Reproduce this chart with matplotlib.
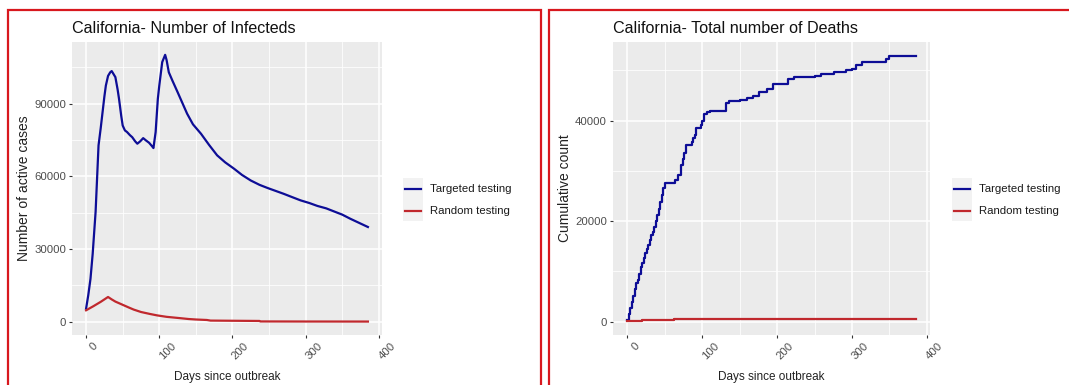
import matplotlib
matplotlib.use('Agg')
import matplotlib.pyplot as plt
import matplotlib.patches as mpatches
import matplotlib.transforms as mtransforms
from matplotlib.lines import Line2D
from matplotlib.ticker import MultipleLocator

W, H = 1069, 385
BLUE = '#0d0d96'
RED = '#c0282d'
PANEL = '#ebebeb'
TICK_TXT = '#4d4d4d'

plt.rcParams['font.family'] = ['Liberation Sans', 'DejaVu Sans']

# active cases
inf_days_tt = [0, 3, 6, 9, 13, 17, 20, 22, 25, 27, 30, 33, 35, 38, 40, 43, 45, 48, 50,
               53, 56, 60, 63, 67, 70, 74, 78, 82, 86, 90, 92, 95, 98, 100, 104, 108,
               110, 113, 118, 125, 132, 138, 146, 157, 168, 179, 190, 202, 213, 225,
               237, 248, 259, 270, 281, 293, 305, 316, 328, 339, 350, 361, 373, 385]
inf_vals_tt = [5400, 11000, 17700, 28000, 45400, 72800, 80000, 85200, 93000, 97500, 101500,
               103000, 103500, 102000, 101000, 96000, 92000, 85000, 81000, 79000, 78300,
               77000, 76200, 74500, 73500, 74500, 75800, 74800, 73900, 72500, 71700, 78300,
               92000, 97500, 107200, 110200, 108000, 103000, 99500, 94800, 90000, 85900,
               81500, 77600, 73000, 68700, 65800, 63200, 60600, 58300, 56500, 55200, 54000,
               52800, 51500, 50100, 49000, 47800, 46800, 45500, 44200, 42500, 40800, 39100]
inf_days_rt = [0, 10, 20, 30, 35, 40, 46, 52, 58, 65, 75, 87, 97, 110, 127, 140, 150, 165,
               170, 200, 237, 238, 300, 385]
inf_vals_rt = [4700, 6400, 8200, 10200, 9200, 8300, 7500, 6700, 5900, 5000, 4000, 3200, 2600,
               2000, 1500, 1100, 900, 700, 450, 380, 300, 100, 70, 50]

# cumulative deaths
dth_days_tt = [0, 2, 4, 6, 8, 10, 12, 14, 16, 18, 20, 22, 24, 26, 28, 30, 32, 34, 36, 38,
               40, 42, 44, 46, 48, 50, 64, 68, 72, 74, 76, 78, 86, 88, 90, 92, 98, 100, 102,
               106, 110, 132, 136, 150, 160, 168, 176, 186, 195, 214, 222, 250, 258, 276,
               292, 300, 306, 313, 346, 350, 386]
dth_vals_tt = [300, 1500, 2800, 4000, 5200, 6600, 7600, 8300, 9500, 10800, 11600, 12700,
               13600, 14400, 15200, 16300, 17200, 17900, 18800, 20000, 21200, 22400, 23800,
               25200, 26600, 27600, 28200, 29200, 31200, 32300, 33500, 35100, 35800, 36600,
               37200, 38600, 39200, 40000, 41300, 41700, 42000, 43500, 44000, 44200, 44500,
               45000, 45800, 46200, 47300, 48200, 48700, 48900, 49300, 49700, 50000, 50300,
               51000, 51700, 52300, 52900, 52900]
dth_days_rt = [0, 20, 62, 385]
dth_vals_rt = [100, 250, 550, 550]

legend_labels = ['Targeted testing', 'Random testing']


def px_rect(x0, y0, x1, y1):
    # pixel box (top-left origin) -> figure fraction [l, b, w, h]
    return [x0 / W, 1 - y1 / H, (x1 - x0) / W, (y1 - y0) / H]


def style_axes(ax, ymajor, ymin_step, ylim):
    ax.set_facecolor(PANEL)
    ax.set_xlim(-19.25, 404.25)
    ax.set_ylim(*ylim)
    ax.xaxis.set_major_locator(MultipleLocator(100))
    ax.xaxis.set_minor_locator(MultipleLocator(50))
    ax.yaxis.set_major_locator(MultipleLocator(ymajor))
    ax.yaxis.set_minor_locator(MultipleLocator(ymin_step))
    ax.grid(which='major', color='white', lw=1.1)
    ax.grid(which='minor', color='white', lw=0.55)
    ax.set_axisbelow(True)
    for s in ax.spines.values():
        s.set_visible(False)
    ax.tick_params(which='major', length=2.3, width=0.8, color='#333333',
                   labelcolor=TICK_TXT, labelsize=8.2, pad=2)
    ax.tick_params(which='minor', length=0)
    ax.yaxis.set_major_formatter(matplotlib.ticker.FuncFormatter(lambda v, p: '%d' % v))
    offset = mtransforms.ScaledTranslation(8 / 100, 0, ax.figure.dpi_scale_trans)
    for lab in ax.get_xticklabels():
        lab.set_rotation(45)
        lab.set_ha('center')
        lab.set_va('top')
        lab.set_transform(lab.get_transform() + offset)


def draw_legend(fig, kx, ky):
    # grey key boxes with line samples, labels to the right
    fig.add_artist(mpatches.Rectangle((kx / W, 1 - (ky + 43) / H), 20 / W, 43 / H,
                                      transform=fig.transFigure, color='#f2f2f2', lw=0))
    for i, (lab, col) in enumerate(zip(legend_labels, [BLUE, RED])):
        yc = ky + 11 + i * 21.5
        fig.add_artist(Line2D([(kx + 2) / W, (kx + 18) / W], [1 - yc / H, 1 - yc / H],
                              transform=fig.transFigure, color=col, lw=1.6))
        fig.text((kx + 27) / W, 1 - yc / H, lab, fontsize=8.2, va='center', ha='left',
                 color='#1a1a1a')


fig = plt.figure(figsize=(W / 100, H / 100), dpi=100)

# left: active infections
ax1 = fig.add_axes(px_rect(72, 42, 382, 335))
ax1.plot(inf_days_tt, inf_vals_tt, color=BLUE, lw=1.6)
ax1.plot(inf_days_rt, inf_vals_rt, color=RED, lw=1.6)
style_axes(ax1, 30000, 15000, (-5500, 115500))
ax1.set_title('California- Number of Infecteds', loc='left', fontsize=11.6, pad=6.5,
              color='#111111')
ax1.set_ylabel('Number of active cases', fontsize=10, color='#222222')
ax1.yaxis.set_label_coords(-0.132, 0.5)
ax1.set_xlabel('Days since outbreak', fontsize=8.5, color='#222222')
ax1.xaxis.set_label_coords(0.5, -0.122)

# right: cumulative deaths
ax2 = fig.add_axes(px_rect(613, 42, 930, 335))
ax2.plot(dth_days_tt, dth_vals_tt, color=BLUE, lw=1.6, drawstyle='steps-post')
ax2.plot(dth_days_rt, dth_vals_rt, color=RED, lw=1.6, drawstyle='steps-post')
style_axes(ax2, 20000, 10000, (-2650, 55650))
ax2.set_title('California- Total number of Deaths', loc='left', fontsize=11.6, pad=6.5,
              color='#111111')
ax2.set_ylabel('Cumulative count', fontsize=10, color='#222222')
ax2.yaxis.set_label_coords(-0.129, 0.5)
ax2.set_xlabel('Days since outbreak', fontsize=8.5, color='#222222')
ax2.xaxis.set_label_coords(0.5, -0.122)

draw_legend(fig, 403, 178)
draw_legend(fig, 952, 178)

# red frames around the two panels
for x0, x1 in [(8, 541), (549, 1075)]:
    fig.add_artist(mpatches.Rectangle((x0 / W, -0.05), (x1 - x0) / W, 1.05 - 10 / H,
                                      transform=fig.transFigure, fill=False,
                                      edgecolor='#d8181e', lw=1.6))

fig.savefig('out.png', dpi=100)
